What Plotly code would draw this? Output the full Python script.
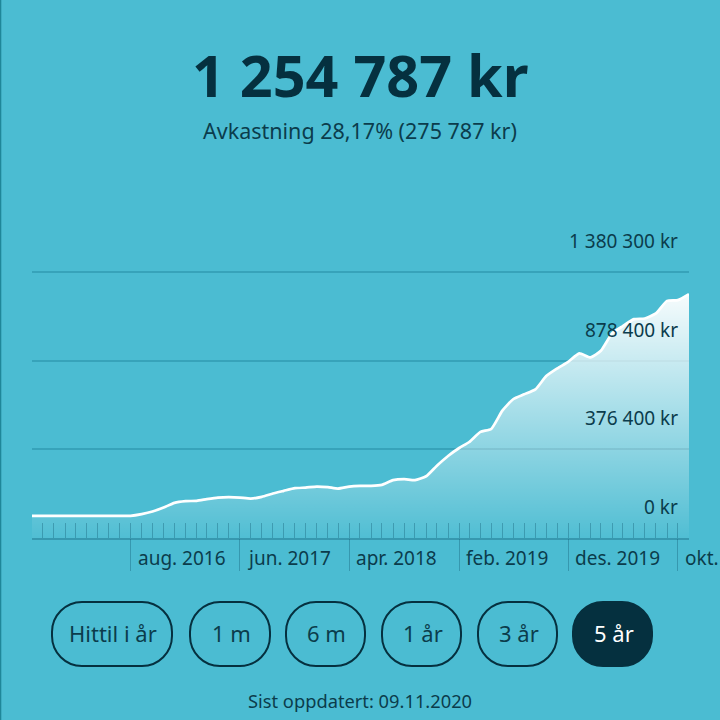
import plotly.graph_objects as go

months = ["2015-11","2015-12","2016-01","2016-02","2016-03","2016-04","2016-05","2016-06","2016-07","2016-08",
          "2016-09","2016-10","2016-11","2016-12","2017-01","2017-02","2017-03","2017-04","2017-05","2017-06",
          "2017-07","2017-08","2017-09","2017-10","2017-11","2017-12","2018-01","2018-02","2018-03","2018-04",
          "2018-05","2018-06","2018-07","2018-08","2018-09","2018-10","2018-11","2018-12","2019-01","2019-02",
          "2019-03","2019-04","2019-05","2019-06","2019-07","2019-08","2019-09","2019-10","2019-11","2019-12",
          "2020-01","2020-02","2020-03","2020-04","2020-05","2020-06","2020-07","2020-08","2020-09","2020-10","2020-11"]
values = [0,0,0,0,0,0,0,0,0,0,
          9600,24300,46900,73500,83100,84800,94400,103400,105700,103400,
          97800,107400,126000,141300,156600,160000,165600,162200,154300,165600,
          169600,169600,175200,201800,207400,201800,224000,284000,339000,384000,
          418000,475000,491700,595200,660000,688000,716000,791300,834800,872100,
          919600,897000,934300,1032600,1073900,1113400,1117400,1145700,1216900,1220800,1254787]
y_ticks = [-125500, 376400, 878400, 1380300]
y_top = 1391600
y_labels = ["0 kr", "376 400 kr", "878 400 kr", "1 380 300 kr"]
x_major = ["2016-08","2017-06","2018-04","2019-02","2019-12","2020-10"]
x_labels = ["aug. 2016","jun. 2017","apr. 2018","feb. 2019","des. 2019","okt."]
buttons = ["Hittil i år","1 m","6 m","1 år","3 år","5 år"]
button_edges = [(52,172),(190,270),(286,365),(382,461),(478,557),(573,652)]
active_button = "5 år"

BG = "#4BBCD2"
DARK = "#0B3C4C"
NAVY = "#05303F"
FONT = "Noto Sans"
W = 720
def px(x): return x / W
def py(y): return 1 - y / W

fig = go.Figure()
fig.add_trace(go.Scatter(x=months, y=[y_ticks[0]] * len(months), mode="lines",
                         line=dict(width=0), showlegend=False, hoverinfo="skip"))
fig.add_trace(go.Scatter(x=months, y=values, mode="lines", fill="tonexty",
                         line=dict(color="white", width=2.7, shape="spline", smoothing=0.5),
                         fillgradient=dict(type="vertical", start=values[-1], stop=y_ticks[0],
                                           colorscale=[[0, "rgba(255,255,255,0.95)"],
                                                       [1, "rgba(255,255,255,0.03)"]]),
                         showlegend=False))
fig.add_trace(go.Scatter(x=months, y=values, mode="lines", xaxis="x2", line=dict(width=0),
                         showlegend=False, hoverinfo="skip"))

tick_col = "rgba(20,95,118,0.38)"
xr = ["2015-11-01", "2020-11-01"]
fig.update_layout(
    width=W, height=W, autosize=False, margin=dict(l=0, r=0, t=0, b=0, pad=0),
    paper_bgcolor=BG, plot_bgcolor=BG, font=dict(family=FONT, color=DARK),
    xaxis=dict(domain=[px(32), px(689)], range=xr, type="date", anchor="y",
               ticks="inside", ticklen=15, tickcolor=tick_col, tickwidth=1,
               dtick="M1", tick0="2015-11-01", showticklabels=False,
               showgrid=False, zeroline=False, showline=True, linecolor=tick_col, linewidth=1.5),
    xaxis2=dict(domain=[px(32), px(689)], range=xr, type="date", overlaying="x", anchor="y",
                ticks="outside", ticklen=32, tickcolor=tick_col, tickwidth=1,
                tickmode="array", tickvals=x_major, showticklabels=False,
                showgrid=False, zeroline=False, showline=False),
    yaxis=dict(domain=[py(538), py(270)], range=[y_ticks[0], y_top],
               side="right", anchor="x", tickmode="array", tickvals=y_ticks,
               ticks="", showticklabels=False,
               showgrid=True, gridcolor="#37A3BA", gridwidth=1.5, zeroline=False, showline=False),
)

for v, lab in zip(y_ticks, y_labels):
    fig.add_annotation(x=px(680), y=v, xref="paper", yref="y", yshift=31, text=lab, showarrow=False,
                       xanchor="right", yanchor="middle",
                       font=dict(size=19, color=DARK, family=FONT))

ann = [
    dict(x=px(360), y=py(75), text="<b>1 254 787 kr</b>", font=dict(size=57.5, color=NAVY, family=FONT)),
    dict(x=px(360), y=py(130), text="Avkastning 28,17% (275 787 kr)", font=dict(size=21.5, color=DARK, family=FONT)),
    dict(x=px(360), y=py(700), text="Sist oppdatert: 09.11.2020", font=dict(size=18.3, color=DARK, family=FONT)),
]
for m, lab in zip(x_major, x_labels):
    fig.add_annotation(x=m, y=py(558), xref="x", yref="paper", text=lab, showarrow=False,
                       xanchor="left", xshift=5, yanchor="middle",
                       font=dict(size=19, color=DARK, family=FONT))

shapes = [dict(type="rect", xref="paper", yref="paper", x0=0, x1=px(1.3), y0=0, y1=1,
               line=dict(width=0), fillcolor="#1F8699")]
T, B, R = 602, 666, 30
for lab, (a, b) in zip(buttons, button_edges):
    k = R * 0.45
    path = (f"M {px(a+R)} {py(T)} L {px(b-R)} {py(T)} "
            f"C {px(b-k)} {py(T)} {px(b)} {py(T+k)} {px(b)} {py(T+R)} "
            f"L {px(b)} {py(B-R)} C {px(b)} {py(B-k)} {px(b-k)} {py(B)} {px(b-R)} {py(B)} "
            f"L {px(a+R)} {py(B)} C {px(a+k)} {py(B)} {px(a)} {py(B-k)} {px(a)} {py(B-R)} "
            f"L {px(a)} {py(T+R)} C {px(a)} {py(T+k)} {px(a+k)} {py(T)} {px(a+R)} {py(T)} Z")
    on = lab == active_button
    shapes.append(dict(type="path", xref="paper", yref="paper", path=path,
                       line=dict(color=NAVY, width=2), fillcolor=NAVY if on else "rgba(0,0,0,0)"))
    ann.append(dict(x=px((a + b) / 2 + 1), y=py(633), text=lab,
                    font=dict(size=22, color="white" if on else DARK, family=FONT)))
for a in ann:
    fig.add_annotation(xref="paper", yref="paper", showarrow=False, xanchor="center", yanchor="middle", **a)
fig.update_layout(shapes=shapes)

fig.write_html("out.html", config={"responsive": False, "displayModeBar": False},
               default_width="720px", default_height="720px",
               post_script="document.body.style.margin='0';document.body.style.overflow='hidden';")
